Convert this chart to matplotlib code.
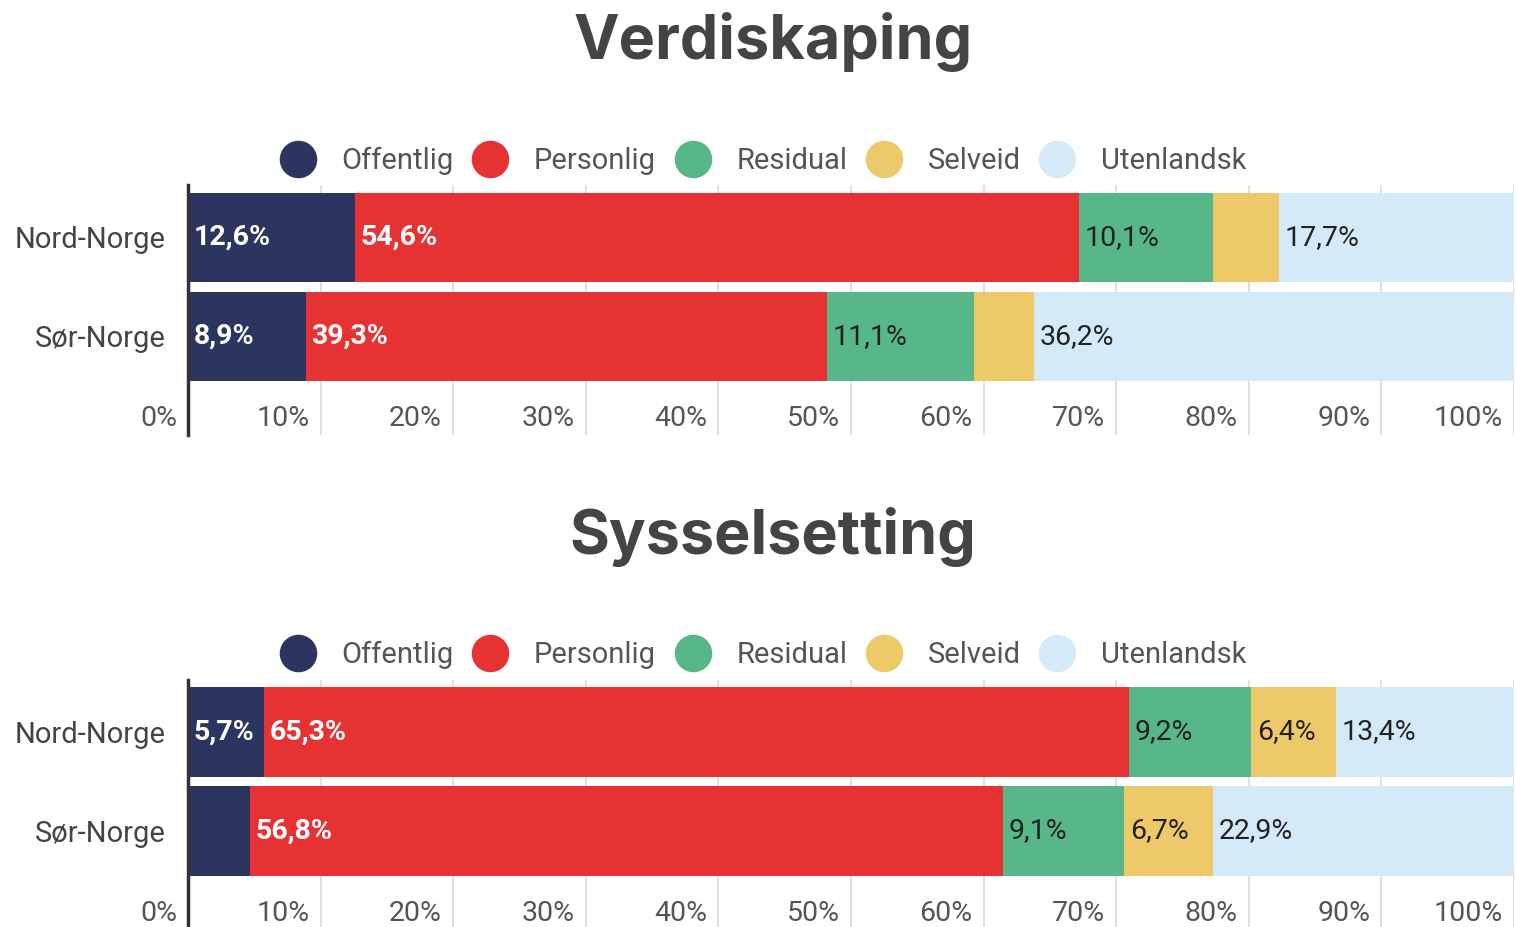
import matplotlib.pyplot as plt
from matplotlib.lines import Line2D
from matplotlib.transforms import offset_copy

plt.rcParams['font.family'] = ['Roboto', 'DejaVu Sans']

# data
regioner = ['Nord-Norge', 'Sør-Norge']
kategorier = ['Offentlig', 'Personlig', 'Residual', 'Selveid', 'Utenlandsk']
farger = ['#2c3560', '#e63232', '#57b789', '#eec96a', '#d4eaf9']
tekstfarger = ['white', 'white', '#222222', '#222222', '#222222']
tekstvekt = ['bold', 'bold', 'normal', 'normal', 'normal']

# andel i prosent per kategori: [Nord-Norge, Sør-Norge]
verdiskaping = {
    'Offentlig': [12.6, 8.9],
    'Personlig': [54.6, 39.3],
    'Residual': [10.1, 11.1],
    'Selveid': [5.0, 4.5],
    'Utenlandsk': [17.7, 36.2],
}
sysselsetting = {
    'Offentlig': [5.7, 4.7],
    'Personlig': [65.3, 56.8],
    'Residual': [9.2, 9.1],
    'Selveid': [6.4, 6.7],
    'Utenlandsk': [13.4, 22.9],
}
xticks = [0, 10, 20, 30, 40, 50, 60, 70, 80, 90, 100]
MIN_ETIKETT = 5.5  # mindre segmenter får ingen etikett


def fmt(v):
    return f"{v:.1f}".replace('.', ',') + '%'


def tegn(ax, data, ylim):
    y = list(range(len(regioner)))
    venstre = [0.0] * len(regioner)
    for i, kat in enumerate(kategorier):
        verdier = data[kat]
        ax.barh(y, verdier, left=venstre, height=0.9, color=farger[i], zorder=2)
        for yi, v, l in zip(y, verdier, venstre):
            if v >= MIN_ETIKETT:
                ax.annotate(fmt(v), (l, yi), xytext=(4, 0), textcoords='offset points',
                            ha='left', va='center', fontsize=20.5, color=tekstfarger[i],
                            fontweight=tekstvekt[i], zorder=3)
        venstre = [a + b for a, b in zip(venstre, verdier)]

    ax.set_xlim(0, 100)
    ax.set_ylim(ylim)
    for t in xticks:
        ax.axvline(t, color='#dddddd', lw=1.3, zorder=1)
    trans = offset_copy(ax.transData, fig=ax.figure, x=-8, y=0, units='points')
    for t in xticks:
        ax.text(t, 1.83, f"{t}%", transform=trans, ha='right', va='center',
                fontsize=20.5, color='#555555')
    ax.set_xticks([])
    ax.set_yticks(y)
    ax.set_yticklabels(regioner, fontsize=21, color='#444444')
    ax.tick_params(axis='y', length=0, pad=16)
    for s in ['top', 'right', 'bottom']:
        ax.spines[s].set_visible(False)
    ax.spines['left'].set_color('#333333')
    ax.spines['left'].set_linewidth(2.5)
    ax.spines['left'].set_zorder(4)


fig = plt.figure(figsize=(15.16, 9.27), dpi=100)
ax1 = fig.add_axes([188 / 1516, 1 - 435 / 927, 1326 / 1516, 250 / 927])
ax2 = fig.add_axes([188 / 1516, 0, 1326 / 1516, 247 / 927])

tegn(ax1, verdiskaping, (1.995, -0.53))
tegn(ax2, sysselsetting, (1.97, -0.525))

fig.text(0.51, 1 - 42 / 927, 'Verdiskaping', ha='center', va='center',
         fontsize=44, fontweight='bold', color='#444444', family=['Inter', 'Roboto'])
fig.text(0.51, 1 - 537 / 927, 'Sysselsetting', ha='center', va='center',
         fontsize=44, fontweight='bold', color='#444444', family=['Inter', 'Roboto'])

handles = [Line2D([], [], marker='o', ls='', markersize=26, markerfacecolor=c,
                  markeredgecolor=c) for c in farger]
for yy in [161, 655]:
    fig.legend(handles, kategorier, loc='center', bbox_to_anchor=(0.503, 1 - yy / 927),
               ncol=5, frameon=False, fontsize=21, labelcolor='#555555',
               handlelength=1.3, handletextpad=0.85, columnspacing=0.6)

plt.savefig('out.png', dpi=100)
